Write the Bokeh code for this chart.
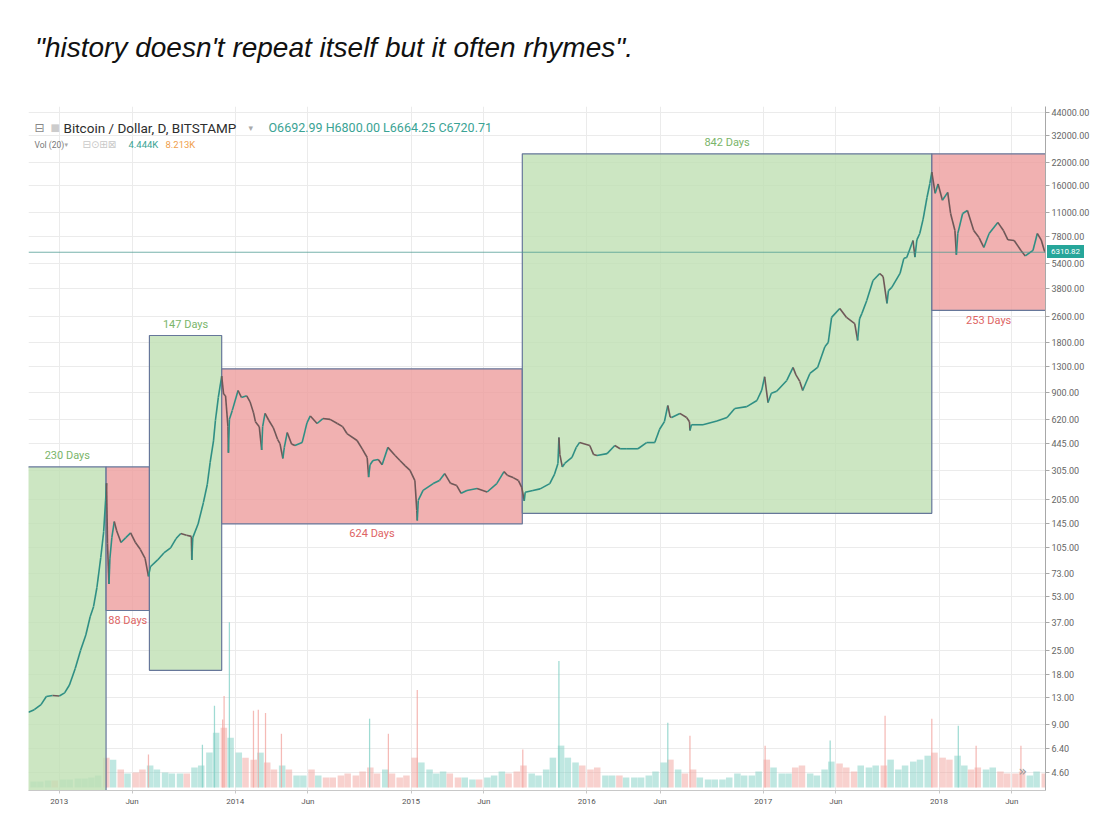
import numpy as np
import pandas as pd
from bokeh.plotting import figure
from bokeh.models import (Range1d, LinearScale, FixedTicker, NumeralTickFormatter,
                          CustomJSTickFormatter, Span, Label, ColumnDataSource, Div)
from bokeh.layouts import column
from bokeh.embed import file_html
from bokeh.resources import INLINE
from bokeh.core.properties import value

TITLE = '"history doesn\'t repeat itself but it often rhymes".'

# ---------------- price (log scale) ----------------
price_dates = [
    "2012-10-29", "2012-11-10", "2012-11-24", "2012-12-05", "2012-12-18", "2013-01-01", "2013-01-12",
    "2013-01-22", "2013-02-03", "2013-02-14", "2013-02-25", "2013-03-06", "2013-03-13", "2013-03-20",
    "2013-03-28", "2013-04-03", "2013-04-07", "2013-04-09", "2013-04-11", "2013-04-14", "2013-04-16",
    "2013-04-20", "2013-04-25", "2013-04-30", "2013-05-09", "2013-05-19", "2013-05-29", "2013-06-08",
    "2013-06-18", "2013-06-28", "2013-07-05", "2013-07-09", "2013-07-24", "2013-08-06", "2013-08-20",
    "2013-08-31", "2013-09-10", "2013-09-22", "2013-10-02", "2013-10-03", "2013-10-05", "2013-10-16",
    "2013-10-27", "2013-11-04", "2013-11-10", "2013-11-17", "2013-11-21", "2013-11-27", "2013-12-04",
    "2013-12-08", "2013-12-12", "2013-12-17", "2013-12-18", "2013-12-20", "2013-12-26", "2014-01-07",
    "2014-01-14", "2014-01-25", "2014-02-01", "2014-02-08", "2014-02-12", "2014-02-20", "2014-02-25",
    "2014-02-27", "2014-03-04", "2014-03-12", "2014-03-21", "2014-03-30", "2014-04-04", "2014-04-10",
    "2014-04-13", "2014-04-19", "2014-04-28", "2014-05-05", "2014-05-20", "2014-05-30", "2014-06-06",
    "2014-06-20", "2014-07-02", "2014-07-17", "2014-08-01", "2014-08-12", "2014-08-21", "2014-09-11",
    "2014-09-22", "2014-10-02", "2014-10-05", "2014-10-08", "2014-10-14", "2014-10-25", "2014-11-02",
    "2014-11-14", "2014-11-29", "2014-12-09", "2014-12-20", "2014-12-30", "2015-01-09", "2015-01-13",
    "2015-01-14", "2015-01-16", "2015-01-26", "2015-02-16", "2015-03-01", "2015-03-12", "2015-03-24",
    "2015-04-06", "2015-04-15", "2015-04-27", "2015-05-18", "2015-06-08", "2015-06-28", "2015-07-13",
    "2015-07-20", "2015-08-01", "2015-08-12", "2015-08-19", "2015-08-24", "2015-08-26", "2015-09-11",
    "2015-09-26", "2015-10-16", "2015-10-26", "2015-11-02", "2015-11-04", "2015-11-06", "2015-11-11",
    "2015-11-16", "2015-12-01", "2015-12-10", "2015-12-17", "2016-01-07", "2016-01-15", "2016-01-22",
    "2016-02-12", "2016-02-28", "2016-03-10", "2016-03-24", "2016-04-16", "2016-05-04", "2016-05-21",
    "2016-05-31", "2016-06-10", "2016-06-17", "2016-06-22", "2016-06-25", "2016-07-12", "2016-07-26",
    "2016-08-01", "2016-08-02", "2016-08-05", "2016-08-29", "2016-09-27", "2016-10-18", "2016-11-03",
    "2016-11-28", "2016-12-19", "2016-12-29", "2017-01-04", "2017-01-11", "2017-01-18", "2017-01-29",
    "2017-02-19", "2017-03-04", "2017-03-10", "2017-03-18", "2017-03-24", "2017-04-08", "2017-04-24",
    "2017-05-09", "2017-05-16", "2017-05-23", "2017-06-09", "2017-06-23", "2017-07-10", "2017-07-16",
    "2017-07-20", "2017-07-25", "2017-08-04", "2017-08-17", "2017-08-31", "2017-09-07", "2017-09-15",
    "2017-09-18", "2017-09-25", "2017-10-12", "2017-10-20", "2017-10-26", "2017-11-08", "2017-11-12",
    "2017-11-16", "2017-11-22", "2017-11-29", "2017-12-07", "2017-12-13", "2017-12-17", "2017-12-24",
    "2017-12-30", "2018-01-08", "2018-01-19", "2018-01-25", "2018-02-03", "2018-02-06", "2018-02-09",
    "2018-02-19", "2018-03-01", "2018-03-14", "2018-03-25", "2018-04-04", "2018-04-15", "2018-05-03",
    "2018-05-15", "2018-05-24", "2018-06-06", "2018-06-20", "2018-06-29", "2018-07-15", "2018-07-24",
    "2018-08-01", "2018-08-08", "2018-08-10",
]
price_values = [
    10.6, 11.0, 11.8, 13.2, 13.4, 13.3, 13.9,
    15.5, 19.5, 25, 31, 40, 46, 60,
    91, 130, 200, 255, 110, 63, 90,
    120, 150, 132, 112, 120, 128, 112,
    102, 90, 70, 80, 88, 97, 104,
    118, 127, 124, 122, 88, 120, 145,
    195, 250, 340, 460, 610, 840, 1130,
    880, 860, 560, 390, 620, 702, 925,
    840, 860, 790, 680, 600, 560, 405,
    560, 673, 610, 553, 470, 443, 360,
    420, 516, 440, 431, 449, 590, 650,
    585, 627, 620, 585, 560, 509, 462,
    410, 365, 278, 330, 350, 355, 330,
    420, 375, 350, 325, 305, 265, 175,
    152, 201, 231, 254, 265, 292, 255,
    247, 222, 231, 237, 226, 254, 300,
    285, 276, 265, 240, 200, 225, 231,
    236, 254, 290, 336, 482, 380, 320,
    336, 365, 420, 450, 431, 380, 375,
    385, 431, 412, 412, 412, 449, 449,
    540, 600, 751, 640, 636, 673, 636,
    600, 531, 575, 575, 605, 636, 721,
    740, 805, 930, 1120, 783, 890, 915,
    1064, 1274, 1150, 1050, 925, 1172, 1274,
    1700, 1800, 2553, 2891, 2553, 2344, 1854,
    2500, 2700, 3228, 4266, 4700, 4500, 3100,
    3700, 3873, 4700, 5800, 5861, 7430, 5900,
    7500, 8185, 10000, 13500, 16400, 19200, 14300,
    16300, 13000, 14500, 10810, 8530, 6100, 8200,
    10810, 11270, 8530, 7740, 6745, 8185, 9550,
    8500, 7500, 7430, 6470, 6000, 6470, 8185,
    7500, 6400, 6310.82,
]
last_price = 6310.82

# ---------------- volume (thousand BTC, half-monthly) ----------------
vol_values = [
    2.7, 2.7, 3.2, 3.2,
    3.6, 3.6, 4.1, 4.1, 4.5, 5.5, 13.6, 12.7, 8.2, 6.4, 6.8, 8.2, 10, 8.2, 6.8, 6.4, 6.4, 6.4, 9.1, 10, 15.9, 25, 27.3, 22.7,
    15.9, 13.6, 12.7, 15.9, 11.4, 8.2, 10, 8.2, 5.5, 5.5, 8.2, 5.5, 4.5, 4.5, 5.5, 6.4, 5.5, 7.3, 9.1, 6.4, 8.2, 6.4, 4.5, 5.5,
    13.6, 11.4, 8.2, 6.4, 7.3, 6.4, 4.5, 4.5, 3.6, 3.6, 4.5, 5.5, 7.3, 6.4, 7.3, 10, 6.4, 5.5, 8.2, 13.6, 19.1, 13.6, 11.4, 10,
    8.2, 9.1, 5.5, 5.5, 5.5, 4.5, 4.5, 4.5, 5.5, 7.3, 11.4, 12.7, 8.2, 6.4, 8.2, 4.5, 3.6, 3.6, 3.6, 4.5, 6.4, 5.5, 5.5, 7.3,
    12.7, 9.1, 6.4, 6.4, 9.1, 10, 6.4, 5.5, 8.2, 11.8, 10.9, 9.1, 7.3, 10, 9.1, 10, 10, 12.7, 8.2, 10, 11.8, 12.7, 14.5, 15.9,
    13.6, 12.7, 14.5, 10, 8.2, 9.1, 8.2, 9.1, 7.3, 6.4, 6.4, 7.3, 5.5, 7.3, 6.4,
]
spike_dates = [
    "2013-04-09", "2013-07-05", "2013-10-25", "2013-11-19", "2013-12-06", "2013-12-09", "2013-12-20",
    "2014-02-08", "2014-02-18", "2014-03-05", "2014-04-07", "2014-10-07", "2014-11-15", "2015-01-14",
    "2015-08-21", "2015-11-04", "2016-06-17", "2016-08-02", "2017-01-05", "2017-05-20", "2017-09-11",
    "2017-12-17", "2018-02-10", "2018-03-19", "2018-06-20",
]
spike_values = [
    13.2, 15, 19.5, 37.3, 31, 41.8, 75.5,
    35, 35.5, 34, 24.5, 31.4, 24.5, 44.5,
    17.3, 57.7, 29.5, 23.6, 19, 21.4, 32.7,
    31.4, 28.2, 19, 19,
]

# ---------------- date ranges (boxes) ----------------
box_start = ["2012-08-21", "2013-04-08", "2013-07-07", "2013-12-04", "2015-08-20", "2017-12-17"]
box_end = ["2013-04-08", "2013-07-07", "2013-12-04", "2015-08-20", "2017-12-17", "2018-08-27"]
box_top = [320, 320, 1986, 1250, 24770, 24770]
box_bottom = [1, 43.6, 19, 145, 168, 2812]
box_kind = ["up", "down", "up", "down", "up", "down"]
box_label = ["230 Days", "88 Days", "147 Days", "624 Days", "842 Days", "253 Days"]

y_ticks = [4.6, 6.4, 9, 13, 18, 25, 37, 53, 73, 105, 145, 205, 305, 445, 620, 900, 1300, 1800,
           2600, 3800, 5400, 7800, 11000, 16000, 22000, 32000, 44000]
x_tick_dates = ["2013-01-01", "2013-06-01", "2014-01-01", "2014-06-01", "2015-01-01", "2015-06-01",
                "2016-01-01", "2016-06-01", "2017-01-01", "2017-06-01", "2018-01-01", "2018-06-01"]

# ---------------- styling ----------------
UP_LINE, DOWN_LINE = "#2f8f84", "#6f5858"
UP_VOL, DOWN_VOL = "#7fcfc4", "#f2a39d"
GREEN_FILL, RED_FILL = "#bfe0b3", "#ee9d9d"
GREEN_TXT, RED_TXT = "#7ab56a", "#de6464"
BOX_LINE = "#66779a"
TAG = "#26a69a"

X0, X1 = pd.Timestamp("2012-10-29"), pd.Timestamp("2018-08-10")
FW, FH = 1017, 684
LEFT, TOP_DIV = 28, 98

div = Div(text=('<div style="padding-top:32px;padding-left:35px;font-family:\'Liberation Sans\',Arial,sans-serif;'
                'font-style:italic;font-size:28px;line-height:32px;color:#111;white-space:nowrap;">'
                + TITLE.replace('"', '&quot;') + '</div>'
                + '<div style="position:absolute;z-index:50;left:1047px;top:245px;background:' + TAG + ';'
                'color:white;font-family:Roboto,sans-serif;font-size:8px;line-height:13px;padding:0 4px;">'
                + f"{last_price:.2f}" + '</div>'),
          width=1100, height=TOP_DIV, margin=(0, 0, 0, 0))

p = figure(x_axis_type="datetime", y_axis_type="log", y_axis_location="right",
           x_range=Range1d(X0, X1), y_range=Range1d(3.58, 47760),
           frame_width=FW, frame_height=FH, min_border_left=LEFT, min_border_right=52,
           min_border_top=8, min_border_bottom=22,
           output_backend="svg", toolbar_location=None, margin=(0, 0, 0, 0))
p.outline_line_color = None
p.background_fill_color = "white"
p.border_fill_color = "white"

p.extra_y_ranges = {"vol": Range1d(-1.4, 311)}
p.extra_y_scales = {"vol": LinearScale()}

pd_dates = pd.to_datetime(price_dates)
pv = np.array(price_values, dtype=float)

# volume bins
bins = pd.date_range("2012-11-01", "2018-08-01", freq="SMS")
n = min(len(bins), len(vol_values))
bins = bins[:n]
tnum = pd_dates.values.astype("datetime64[ms]").astype(np.int64)
lp = np.log10(pv)
bstart = bins.values.astype("datetime64[ms]").astype(np.int64)
bend = bstart + 15 * 86400000
dir_up = np.interp(bend, tnum, lp) >= np.interp(bstart, tnum, lp)
vsrc = ColumnDataSource(dict(x=bins + pd.Timedelta(days=7.5), top=vol_values[:n],
                             color=[UP_VOL if u else DOWN_VOL for u in dir_up]))
p.vbar(x="x", top="top", bottom=0, width=13.5 * 86400000, source=vsrc, y_range_name="vol",
       fill_color="color", fill_alpha=0.5, line_color=None)

sd = pd.to_datetime(spike_dates)
snum = sd.values.astype("datetime64[ms]").astype(np.int64)
s_up = np.interp(snum + 86400000, tnum, lp) >= np.interp(snum - 86400000, tnum, lp)
ssrc = ColumnDataSource(dict(x=sd, top=spike_values, color=[UP_VOL if u else DOWN_VOL for u in s_up]))
p.vbar(x="x", top="top", bottom=0, width=2.6 * 86400000, source=ssrc, y_range_name="vol",
       fill_color="color", fill_alpha=0.75, line_color=None)

# grids
p.ygrid.ticker = FixedTicker(ticks=y_ticks)
p.ygrid.grid_line_color = "#ebebeb"
xt = [int(pd.Timestamp(d).value // 10**6) for d in x_tick_dates]
p.xgrid.ticker = FixedTicker(ticks=xt)
p.xgrid.grid_line_color = "#ebebeb"

# boxes
bsrc = ColumnDataSource(dict(
    left=pd.to_datetime(box_start), right=pd.to_datetime(box_end), top=box_top, bottom=box_bottom,
    fill=[GREEN_FILL if k == "up" else RED_FILL for k in box_kind]))
p.quad(left="left", right="right", top="top", bottom="bottom", source=bsrc,
       fill_color="fill", fill_alpha=0.8, line_color=BOX_LINE, line_width=1.2)

# price line segments
seg_col = [UP_LINE if b >= a else DOWN_LINE for a, b in zip(pv[:-1], pv[1:])]
psrc = ColumnDataSource(dict(x0=pd_dates[:-1], y0=pv[:-1], x1=pd_dates[1:], y1=pv[1:], c=seg_col))
p.segment(x0="x0", y0="y0", x1="x1", y1="y1", source=psrc, line_color="c", line_width=1.6)

# last price line
p.add_layout(Span(location=last_price, dimension="width", line_color="#4a9a90", line_width=1, line_alpha=0.75))

# box labels
gl, gy, rl, ry, gx, rx = [], [], [], [], [], []
for s, e, t, b, k, lab in zip(box_start, box_end, box_top, box_bottom, box_kind, box_label):
    s, e = max(pd.Timestamp(s), X0), min(pd.Timestamp(e), X1)
    mid = s + (e - s) / 2
    if k == "up":
        gx.append(mid); gy.append(t); gl.append(lab)
    else:
        rx.append(mid); ry.append(b); rl.append(lab)
p.text(x=gx, y=gy, text=gl, text_align="center", text_baseline="middle", y_offset=-11,
       text_font=value("Roboto"), text_font_size="11px", text_color=GREEN_TXT)
p.text(x=rx, y=ry, text=rl, text_align="center", text_baseline="middle", y_offset=10,
       text_font=value("Roboto"), text_font_size="11px", text_color=RED_TXT)

# axes
ya = p.yaxis[0]
ya.ticker = FixedTicker(ticks=y_ticks)
ya.formatter = NumeralTickFormatter(format="0.00")
ya.axis_line_color = "#a8a8a8"
ya.major_tick_line_color = "#a8a8a8"
ya.major_tick_out = 4
ya.major_tick_in = 0
ya.minor_tick_line_color = None
ya.major_label_standoff = 2
ya.major_label_text_font = "Roboto"
ya.major_label_text_font_size = "9px"
ya.major_label_text_color = "#666666"

xa = p.xaxis[0]
xa.ticker = FixedTicker(ticks=xt)
xa.formatter = CustomJSTickFormatter(code="""
const d = new Date(tick);
const m = ["Jan","Feb","Mar","Apr","May","Jun","Jul","Aug","Sep","Oct","Nov","Dec"];
return d.getUTCMonth() === 0 ? String(d.getUTCFullYear()) : m[d.getUTCMonth()];
""")
xa.axis_line_color = "#c8c8c8"
xa.major_tick_line_color = "#c8c8c8"
xa.major_tick_out = 3
xa.major_tick_in = 0
xa.minor_tick_line_color = None
xa.major_label_standoff = 3
xa.major_label_text_font = "Roboto"
xa.major_label_text_font_size = "8px"
xa.major_label_text_color = "#555555"

# header texts
def hdr(x, y, text, size, color, font="Roboto", style="normal"):
    p.add_layout(Label(x=x, y=y, x_units="screen", y_units="screen", text=text, text_font=font,
                       text_font_size=size, text_color=color, text_baseline="middle", text_font_style=style))

hdr(6, 663, "⊟", "12px", "#888888", "DejaVu Sans")
hdr(22, 663, "■", "10px", "#cccccc", "DejaVu Sans")
hdr(35, 663, "Bitcoin / Dollar, D, BITSTAMP", "13.5px", "#2d2d2d")
hdr(220, 663, "▾", "9px", "#aaaaaa", "DejaVu Sans")
hdr(240, 663, "O6692.99 H6800.00 L6664.25 C6720.71", "12.5px", "#3aa394")
hdr(6, 646, "Vol (20)", "8.5px", "#777777")
hdr(36, 646, "▾", "7px", "#aaaaaa", "DejaVu Sans")
hdr(54, 646, "⊟⊙⊞⊠", "10px", "#c8c8c8", "DejaVu Sans")
hdr(100, 646, "4.444K", "9.5px", "#3aa394")
hdr(137, 646, "8.213K", "9.5px", "#f0a04b")
hdr(990, 20, "»", "14px", "#999999", "DejaVu Sans")

layout = column(div, p, spacing=0, margin=(0, 0, 0, 0))
open("out.html", "w").write(file_html(layout, INLINE))
